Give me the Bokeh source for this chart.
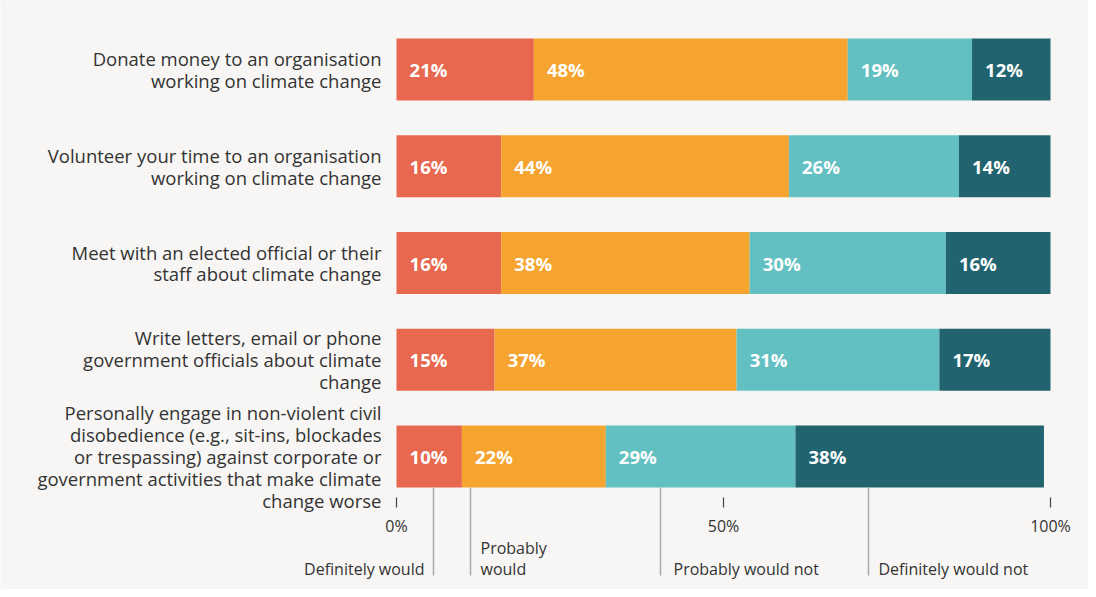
from bokeh.plotting import figure
from bokeh.models import Range1d, ColumnDataSource
from bokeh.core.properties import value
from bokeh.embed import file_html
from bokeh.resources import INLINE

categories = [
    "Donate money to an organisation\nworking on climate change",
    "Volunteer your time to an organisation\nworking on climate change",
    "Meet with an elected official or their\nstaff about climate change",
    "Write letters, email or phone\ngovernment officials about climate\nchange",
    "Personally engage in non-violent civil\ndisobedience (e.g., sit-ins, blockades\nor trespassing) against corporate or\ngovernment activities that make climate\nchange worse",
]
series_names = ["Definitely would", "Probably would", "Probably would not", "Definitely would not"]
definitely_would = [21, 16, 16, 15, 10]
probably_would = [48, 44, 38, 37, 22]
probably_would_not = [19, 26, 30, 31, 29]
definitely_would_not = [12, 14, 16, 17, 38]
tick_values = [0, 50, 100]
tick_labels = ["0%", "50%", "100%"]
legend_labels = ["Definitely would", "Probably\nwould", "Probably would not", "Definitely would not"]

colors = ["#E8674F", "#F5A52F", "#62C0C2", "#216470"]
BG = "#F7F6F4"
TEXT = "#333333"
FONT = "Open Sans"

W, H = 1088, 589
px_per_pct = 6.54
x0_px = 396
x_start = -x0_px / px_per_pct
x_end = x_start + W / px_per_pct
row_px = 96.75
row0_px = 69
y_top = -row0_px / row_px
y_bot = (H - row0_px) / row_px


def ypix(py):
    return (py - row0_px) / row_px


def xpix(px):
    return (px - x0_px) / px_per_pct


p = figure(width=W, height=H, output_backend="svg", toolbar_location=None,
           x_range=Range1d(x_start, x_end), y_range=Range1d(y_bot, y_top),
           min_border=0, min_border_left=0, min_border_right=0,
           min_border_top=0, min_border_bottom=0)
p.axis.visible = False
p.grid.visible = False
p.outline_line_color = None
p.background_fill_color = BG
p.border_fill_color = BG

rows = list(range(len(categories)))
series = [definitely_would, probably_would, probably_would_not, definitely_would_not]
bar_h = 62 / row_px
left = [0] * len(rows)
for s, col in zip(series, colors):
    right = [l + v for l, v in zip(left, s)]
    src = ColumnDataSource(dict(y=rows, left=left, right=right,
                                lx=[l + 2.0 for l in left],
                                lab=[f"{v}%" for v in s]))
    p.hbar(y="y", left="left", right="right", height=bar_h, color=col, line_color=None, source=src)
    p.text(x="lx", y="y", text="lab", source=src, text_color="white",
           text_font=value(FONT), text_font_style="bold", text_font_size="18.5px",
           text_align="left", text_baseline="middle")
    left = right

# category labels
p.text(x=[xpix(381)] * len(rows), y=rows, text=categories, text_color=TEXT,
       text_font=value(FONT), text_font_size="18.5px", text_align="right",
       text_baseline="middle", text_line_height=22 / (18.5 * 1.36))

# axis ticks
p.segment(x0=tick_values, x1=tick_values, y0=[ypix(497)] * 3, y1=[ypix(507)] * 3,
          line_color="#444444", line_width=1.2)
p.text(x=tick_values, y=[ypix(525)] * 3, text=tick_labels,
       text_color=TEXT, text_font=value(FONT), text_font_size="16px",
       text_align="center", text_baseline="middle")

# legend leader lines and labels
leader_x = [xpix(px) for px in (433, 470, 660, 868)]
p.segment(x0=leader_x, x1=leader_x, y0=[ypix(487)] * 4, y1=[ypix(575)] * 4,
          line_color="#AAAAAA", line_width=1.5)
lab_x = [xpix(px) for px in (424, 480, 673, 878)]
aligns = ["right", "left", "left", "left"]
for x, t, a in zip(lab_x, legend_labels, aligns):
    yy = 558 if "\n" in t else 568
    p.text(x=[x], y=[ypix(yy)], text=[t], text_color=TEXT, text_font=value(FONT),
           text_font_size="16px", text_align=a, text_baseline="middle",
           text_line_height=20 / (16 * 1.36))

open("out.html", "w").write(file_html(p, INLINE))
